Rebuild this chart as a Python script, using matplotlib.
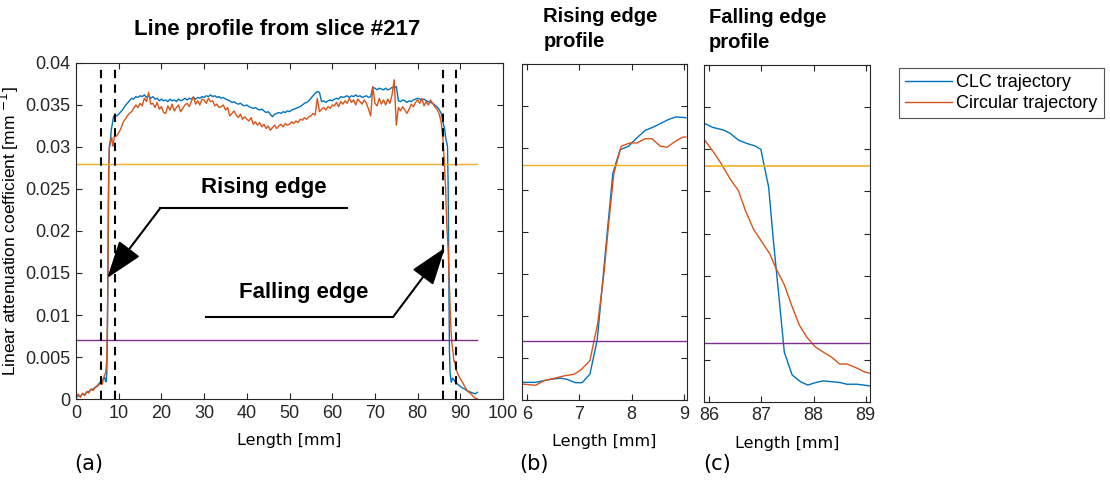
import numpy as np
import matplotlib
matplotlib.use("Agg")
import matplotlib.pyplot as plt

# colours (MATLAB default order)
c_clc = '#0072BD'
c_circ = '#D95319'
c_hi = '#EDB120'
c_lo = '#7E2F8E'

# thresholds
thr_hi = 0.028
thr_lo = 0.007

# left tail, 0 .. 5.5 mm
x_tail_l = [0, 0.5, 1, 1.5, 2, 2.5, 3, 3.5, 4, 4.5, 5, 5.5]
clc_tail_l = [0.0002, 0.0004, 0.0003, 0.0006, 0.0005, 0.0008, 0.0009, 0.0011, 0.0012, 0.0014, 0.0016, 0.0019]
circ_tail_l = [0.0000, 0.0006, 0.0002, 0.0007, 0.0004, 0.0009, 0.0007, 0.0012, 0.0010, 0.0014, 0.0015, 0.0018]

# rising edge (panel b)
x_rise_clc = [5.9, 6.16, 6.45, 6.64, 6.76, 6.92, 7.05, 7.2, 7.34, 7.43, 7.53, 7.64,
              7.78, 7.94, 8.1, 8.26, 8.42, 8.55, 8.71, 8.85, 9.04]
clc_rise = [0.0021, 0.0021, 0.00246, 0.0026, 0.00246, 0.00206, 0.00206, 0.00306, 0.00714,
            0.0131, 0.0198, 0.027, 0.0298, 0.0302, 0.0312, 0.0321, 0.0325, 0.0329, 0.0334,
            0.0337, 0.0336]
x_rise_circ = [5.9, 6.16, 6.32, 6.57, 6.73, 6.9, 7.04, 7.2, 7.35, 7.47, 7.56, 7.66,
               7.8, 7.97, 8.1, 8.26, 8.39, 8.55, 8.68, 8.84, 8.98, 9.04]
circ_rise = [0.0019, 0.00175, 0.0023, 0.00266, 0.0029, 0.00306, 0.00365, 0.00468, 0.00913,
             0.0151, 0.021, 0.027, 0.0302, 0.0306, 0.0306, 0.0311, 0.0311, 0.0302, 0.0301,
             0.0308, 0.0313, 0.0313]

# plateau 9.5 .. 85.5 mm every 0.5 mm, values in 1e-4 mm^-1
x_plat = np.arange(9.5, 85.51, 0.5)
clc_plat = [
    337, 339, 342, 345, 349, 352, 355, 358, 357, 360,
    359, 361, 360, 362, 359, 361, 358, 360, 357, 358,
    355, 357, 355, 356, 354, 357, 355, 356, 354, 357,
    355, 356, 358, 356, 358, 357, 359, 357, 359, 358,
    360, 359, 361, 360, 362, 360, 361, 359, 360, 358,
    359, 357, 356, 355, 353, 354, 352, 351, 352, 350,
    349, 350, 348, 347, 346, 347, 345, 344, 345, 343,
    341, 342, 339, 336, 339, 340, 341, 340, 342, 341,
    343, 342, 344, 345, 346, 347, 348, 350, 352, 353,
    355, 358, 361, 364, 366, 365, 354, 355, 353, 355,
    356, 355, 357, 358, 357, 360, 359, 360, 361, 359,
    361, 360, 362, 360, 361, 359, 360, 361, 359, 360,
    371, 370, 368, 370, 369, 368, 370, 368, 369, 371,
    370, 372, 355, 354, 356, 355, 353, 355, 354, 356,
    357, 358, 357, 356, 357, 355, 354, 353, 352, 350,
    348, 345, 340]
circ_plat = [
    313, 317, 322, 329, 333, 337, 340, 342, 346, 350,
    347, 352, 349, 358, 354, 365, 351, 352, 347, 353,
    345, 348, 341, 340, 349, 344, 351, 343, 347, 350,
    342, 346, 350, 352, 348, 354, 360, 351, 355, 350,
    357, 356, 352, 358, 354, 355, 349, 351, 347, 348,
    350, 344, 347, 337, 340, 343, 338, 335, 339, 333,
    336, 333, 331, 335, 327, 330, 326, 329, 324, 327,
    322, 325, 320, 323, 326, 322, 325, 327, 324, 328,
    326, 327, 330, 328, 331, 329, 333, 332, 335, 333,
    336, 337, 340, 338, 358, 342, 345, 347, 344, 348,
    346, 350, 349, 353, 348, 354, 351, 355, 352, 358,
    353, 356, 350, 357, 354, 351, 356, 352, 345, 337,
    372, 352, 349, 358, 351, 356, 350, 357, 352, 362,
    380, 326, 347, 343, 348, 344, 340, 345, 351, 348,
    353, 356, 352, 358, 349, 354, 350, 356, 352, 348,
    345, 340, 330]

# falling edge (panel c)
x_fall_clc = [85.9, 86.07, 86.27, 86.4, 86.56, 86.72, 86.88, 86.99, 87.14, 87.23, 87.33,
              87.44, 87.59, 87.75, 87.89, 88.04, 88.19, 88.35, 88.51, 88.64, 88.84, 89.08]
clc_fall = [0.0331, 0.0326, 0.0323, 0.0319, 0.0311, 0.0307, 0.0304, 0.0300, 0.0255, 0.0192,
            0.0129, 0.0059, 0.0032, 0.0024, 0.0020, 0.0023, 0.0025, 0.0024, 0.0023, 0.0021,
            0.0021, 0.0019]
x_fall_circ = [85.9, 86.07, 86.23, 86.4, 86.56, 86.69, 86.85, 87.01, 87.16, 87.27, 87.44,
               87.59, 87.73, 87.87, 88.04, 88.19, 88.35, 88.5, 88.64, 88.84, 88.96, 89.08]
circ_fall = [0.0312, 0.0298, 0.0283, 0.0265, 0.0251, 0.0228, 0.0205, 0.0190, 0.0176, 0.0160,
             0.0139, 0.0113, 0.0091, 0.0077, 0.0065, 0.0059, 0.0053, 0.0045, 0.0045, 0.0040,
             0.0036, 0.0034]

# right tail 89.5 .. 94 mm
x_tail_r = [89.5, 90, 90.5, 91, 91.5, 92, 92.5, 93, 93.5, 94]
clc_tail_r = [0.0017, 0.0015, 0.0013, 0.0012, 0.0010, 0.0009, 0.0008, 0.0007, 0.0006, 0.0008]
circ_tail_r = [0.0029, 0.0024, 0.0020, 0.0015, 0.0011, 0.0008, 0.0006, 0.0003, 0.0001, 0.0000]

# zoom windows (dashed lines)
rise_lim = (5.9, 9.06)
fall_lim = (85.9, 89.08)

# full profiles
x_clc = np.concatenate([x_tail_l, x_rise_clc, x_plat, x_fall_clc, x_tail_r])
y_clc = np.concatenate([clc_tail_l, clc_rise, np.array(clc_plat) * 1e-4, clc_fall, clc_tail_r])
x_circ = np.concatenate([x_tail_l, x_rise_circ, x_plat, x_fall_circ, x_tail_r])
y_circ = np.concatenate([circ_tail_l, circ_rise, np.array(circ_plat) * 1e-4, circ_fall, circ_tail_r])

plt.rcParams['font.family'] = ['Liberation Sans', 'DejaVu Sans']
plt.rcParams['axes.edgecolor'] = '#262626'
plt.rcParams['axes.linewidth'] = 0.8
plt.rcParams['xtick.color'] = '#262626'
plt.rcParams['ytick.color'] = '#262626'

fig = plt.figure(figsize=(11.1, 4.86), dpi=100)
ax_a = fig.add_axes([0.0685, 0.179, 0.3847, 0.6914])
ax_b = fig.add_axes([0.4703, 0.177, 0.1486, 0.6914])
ax_c = fig.add_axes([0.6342, 0.173, 0.1495, 0.693])

yt = [0, 0.005, 0.01, 0.015, 0.02, 0.025, 0.03, 0.035, 0.04]
yt_lab = ['0', '0.005', '0.01', '0.015', '0.02', '0.025', '0.03', '0.035', '0.04']

for ax in (ax_a, ax_b, ax_c):
    ax.set_ylim(0, 0.04)
    ax.set_yticks(yt)
    ax.tick_params(direction='in', top=True, right=True, length=4, width=0.8,
                   labelsize=13, pad=4)

# panel (a)
ax_a.plot(x_clc, y_clc, color=c_clc, lw=1, label='CLC trajectory')
ax_a.plot(x_circ, y_circ, color=c_circ, lw=1, label='Circular trajectory')
ax_a.plot([x_clc[0], x_clc[-1]], [thr_hi, thr_hi], color=c_hi, lw=1)
ax_a.plot([x_clc[0], x_clc[-1]], [thr_lo, thr_lo], color=c_lo, lw=1)
for xv in (*rise_lim, *fall_lim):
    ax_a.plot([xv, xv], [0, 0.04], color='black', lw=1.5, ls=(0, (4, 3)))
ax_a.set_xlim(0, 100)
ax_a.set_xticks(range(0, 101, 10))
ax_a.set_yticklabels(yt_lab)
ax_a.set_title('Line profile from slice #217', fontsize=16, fontweight='bold', pad=20, x=0.47)
ax_a.set_xlabel('Length [mm]', fontsize=11.5, family='DejaVu Sans', labelpad=8)
ax_a.set_ylabel('Linear attenuation coefficient [mm $^{-1}$]', fontsize=12.5, labelpad=3)

# annotations
ax_a.text(44, 0.0252, 'Rising edge', ha='center', va='center', fontsize=16, fontweight='bold')
ax_a.plot([63.5, 19.7], [0.0227, 0.0227], color='black', lw=1.5)
ax_a.annotate('', xy=(7.3, 0.0144), xytext=(19.7, 0.0227),
              arrowprops=dict(arrowstyle='-|>,head_length=1.3,head_width=0.45',
                              color='black', lw=1.5, mutation_scale=18, shrinkA=0, shrinkB=0))
ax_a.text(53.2, 0.0127, 'Falling edge', ha='center', va='center', fontsize=16, fontweight='bold')
ax_a.plot([30.4, 74.3], [0.0098, 0.0098], color='black', lw=1.5)
ax_a.annotate('', xy=(86.4, 0.018), xytext=(74.3, 0.0098),
              arrowprops=dict(arrowstyle='-|>,head_length=1.3,head_width=0.45',
                              color='black', lw=1.5, mutation_scale=18, shrinkA=0, shrinkB=0))

# panel (b)
ax_b.plot(x_rise_clc, clc_rise, color=c_clc, lw=1)
ax_b.plot(x_rise_circ, circ_rise, color=c_circ, lw=1)
ax_b.axhline(thr_hi, color=c_hi, lw=1)
ax_b.axhline(thr_lo, color=c_lo, lw=1)
ax_b.set_xlim(*rise_lim)
ax_b.set_xticks([6, 7, 8, 9])
ax_b.set_yticklabels([])
ax_b.set_xlabel('Length [mm]', fontsize=11.5, family='DejaVu Sans', labelpad=8)
ax_b.text(0.13, 1.04, 'Rising edge\nprofile', transform=ax_b.transAxes, ha='left', va='bottom',
          fontsize=14.5, fontweight='bold', linespacing=1.4)

# panel (c)
ax_c.plot(x_fall_clc, clc_fall, color=c_clc, lw=1)
ax_c.plot(x_fall_circ, circ_fall, color=c_circ, lw=1)
ax_c.axhline(thr_hi, color=c_hi, lw=1.2)
ax_c.axhline(thr_lo, color=c_lo, lw=1)
ax_c.set_xlim(*fall_lim)
ax_c.set_xticks([86, 87, 88, 89])
ax_c.set_yticklabels([])
ax_c.set_xlabel('Length [mm]', fontsize=11.5, family='DejaVu Sans', labelpad=8)
ax_c.text(0.03, 1.04, 'Falling edge\nprofile', transform=ax_c.transAxes, ha='left', va='bottom',
          fontsize=14.5, fontweight='bold', linespacing=1.4)

# legend
leg = fig.legend(*ax_a.get_legend_handles_labels(), loc='upper left',
                 bbox_to_anchor=(0.81, 0.86), fontsize=13, frameon=True, fancybox=False,
                 handlelength=2.6, handletextpad=0.2, borderpad=0.35, labelspacing=0.2,
                 borderaxespad=0)
leg.get_frame().set_edgecolor('#262626')
leg.get_frame().set_linewidth(0.8)

# panel labels
for xp, lab in ((0.067, '(a)'), (0.468, '(b)'), (0.634, '(c)')):
    fig.text(xp, 0.045, lab, fontsize=15, family='DejaVu Sans', ha='left', va='center')

fig.savefig('out.png', dpi=100)
